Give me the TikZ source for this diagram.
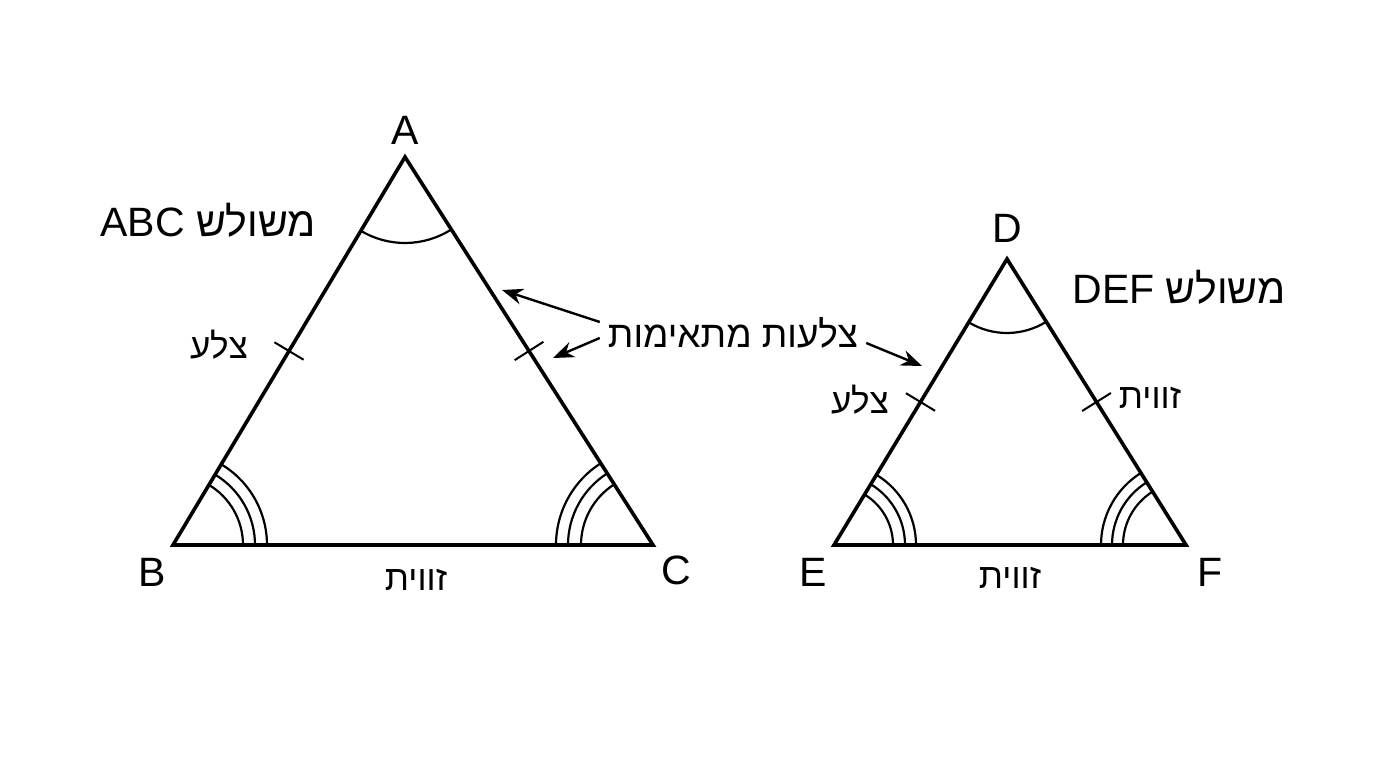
\documentclass[tikz,border=0pt]{standalone}
\usepackage{fontspec}
\setmainfont{Liberation Sans}
\newfontfamily\heb[Script=Hebrew]{Liberation Sans}
\TeXXeTstate=1
\usetikzlibrary{calc,angles,arrows.meta}
\begin{document}
\begin{tikzpicture}[x=1pt,y=1pt,
  tri/.style={line width=3.6pt,line join=miter},
  angmark/.style={draw,line width=2.2pt},
  tickmark/.style={line width=2pt},
  callout/.style={line width=2.4pt,-{Stealth[length=21pt,width=16pt]}},
  vlabel/.style={font=\fontsize{41}{46}\selectfont,inner sep=0pt},
  hlabel/.style={font=\heb\fontsize{35}{40}\selectfont,inner sep=0pt},
  tlabel/.style={font=\heb\fontsize{41}{46}\selectfont,inner sep=0pt}]
\useasboundingbox[fill=white] (0,0) rectangle (1376,768);
% triangle ABC
\coordinate (A) at (405,611);
\coordinate (B) at (173,223);
\coordinate (C) at (653,223);
\draw[tri] (A) -- (B) -- (C) -- cycle;
% triangle DEF
\coordinate (D) at (1007,509);
\coordinate (E) at (834,223);
\coordinate (F) at (1186,223);
\draw[tri] (D) -- (E) -- (F) -- cycle;
% angle marks ABC
\pic[angmark,angle radius=86pt] {angle=B--A--C};
\foreach \r in {70,82,94} \pic[angmark,angle radius=\r pt] {angle=C--B--A};
\foreach \r in {72,85,97} \pic[angmark,angle radius=\r pt] {angle=A--C--B};
% angle marks DEF
\pic[angmark,angle radius=74pt] {angle=E--D--F};
\foreach \r in {59,71,82} \pic[angmark,angle radius=\r pt] {angle=F--E--D};
\foreach \r in {63,74,85} \pic[angmark,angle radius=\r pt] {angle=D--F--E};
% tick marks
\draw[tickmark] ($(A)!0.5!(B)!17pt!90:(B)$) -- ($(A)!0.5!(B)!17pt!-90:(B)$);
\draw[tickmark] ($(A)!0.5!(C)!17pt!90:(C)$) -- ($(A)!0.5!(C)!17pt!-90:(C)$);
\draw[tickmark] ($(D)!0.5!(E)!17pt!90:(E)$) -- ($(D)!0.5!(E)!17pt!-90:(E)$);
\draw[tickmark] ($(D)!0.5!(F)!17pt!90:(F)$) -- ($(D)!0.5!(F)!17pt!-90:(F)$);
% vertex labels
\node[vlabel] (lA) at (405,638) {A};
\node[vlabel] (lB) at (152,196) {B};
\node[vlabel] (lC) at (676,198) {C};
\node[vlabel] (lD) at (1007,540) {D};
\node[vlabel] (lE) at (813,196) {E};
\node[vlabel] (lF) at (1210,196) {F};
% titles
\node[tlabel] (tABC) at (208,548) {\beginR משולש \beginL ABC\endL\endR};
\node[tlabel] (tDEF) at (1179,481) {\beginR משולש \beginL DEF\endL\endR};
% side / angle labels
\node[hlabel] (s1) at (219,423) {\beginR צלע\endR};
\node[hlabel] (s2) at (860,368) {\beginR צלע\endR};
\node[hlabel] (a1) at (1150,370) {\beginR זווית\endR};
\node[hlabel] (a2) at (416,188) {\beginR זווית\endR};
\node[hlabel] (a3) at (1010,190) {\beginR זווית\endR};
% corresponding sides
\node[hlabel,font=\heb\fontsize{37}{42}\selectfont] (cs) at (733,435) {\beginR צלעות מתאימות\endR};
\coordinate (p1) at (502,478);
\coordinate (p2) at (553,410);
\coordinate (p3) at (922,402);
\draw[callout] (cs.west) ++(-8,11) coordinate (q1) -- (p1);
\draw[callout] (cs.west) ++(-8,-5) coordinate (q2) -- (p2);
\draw[callout] (cs.east) ++(8,-10) coordinate (q3) -- (p3);
\end{tikzpicture}
\end{document}
